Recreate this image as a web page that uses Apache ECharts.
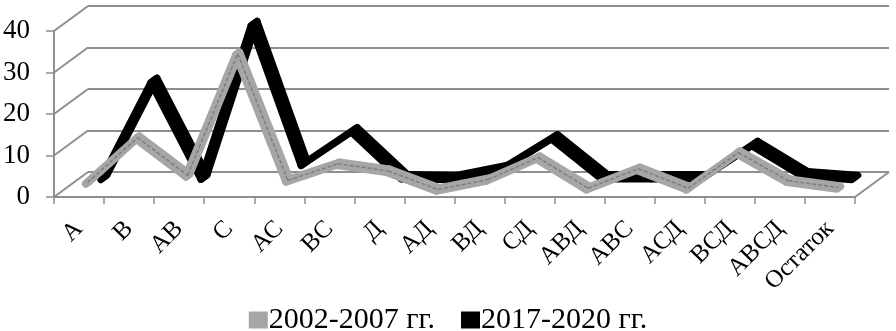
<!DOCTYPE html>
<html><head><meta charset="utf-8">
<script src="https://cdn.jsdelivr.net/npm/echarts@6/dist/echarts.min.js"></script>
<style>html,body{margin:0;padding:0;background:#fff}#c{width:896px;height:331px}</style>
</head><body><div id="c"></div>
<script>
// ---- data ----
const categories = ['А','В','АВ','С','АС','ВС','Д','АД','ВД','СД','АВД','АВС','АСД','ВСД','АВСД','Остаток'];
const seriesNames = ['2002-2007 гг.', '2017-2020 гг.'];
const values2002 = [2, 12.8, 3.7, 33, 2.5, 6.5, 4.8, 0.3, 2.7, 8, 0.6, 5.3, 0.6, 9.2, 2.4, 0.8];
const values2017 = [0.3, 23.7, 0.4, 37.4, 3.7, 11.8, 0.5, 0.3, 2.7, 10.1, 0.5, 0.5, 0.5, 8.5, 1.2, 0.3];
const yTicks = [0, 10, 20, 30, 40];

// ---- layout / style ----
const DX = 34, DY = -25;           // 3D depth vector (pixels)
const FRONT_LEFT = 54, FRONT_TOP = 31, PLOT_W = 801, PLOT_H = 166;
const GRID_COLOR = '#8e8e8e';
const GRAY = '#a6a6a6', BLACK = '#000000';
const FONT = 'Liberation Serif';

const P = (p, d) => [p[0] + d * DX, p[1] + d * DY];

function ribbon(vals, d1, d2, color, w) {
  return function (params, api) {
    const i = params.dataIndex;
    if (i >= vals.length - 1) return null;
    const a = api.coord([i, vals[i]]);
    const b = api.coord([i + 1, vals[i + 1]]);
    return { type: 'polygon', shape: { points: [P(a, d1), P(b, d1), P(b, d2), P(a, d2)] },
      style: { fill: color, stroke: color, lineWidth: w, lineJoin: 'round' } };
  };
}
function dashLine(vals, d, color) {
  return function (params, api) {
    const i = params.dataIndex;
    if (i >= vals.length - 1) return null;
    const a = P(api.coord([i, vals[i]]), d);
    const b = P(api.coord([i + 1, vals[i + 1]]), d);
    return { type: 'line', shape: { x1: a[0], y1: a[1], x2: b[0], y2: b[1] },
      style: { stroke: color, lineWidth: 1.4, lineDash: [4, 2] } };
  };
}

const chart = echarts.init(document.getElementById('c'), null, { renderer: 'canvas' });
const decoData = yTicks.map(v => [0, v, 0]).concat([[categories.length - 1, 0, 1]]);

chart.setOption({
  animation: false,
  backgroundColor: '#fff',
  textStyle: { fontFamily: FONT },
  grid: [
    { left: FRONT_LEFT + DX, top: FRONT_TOP + DY, width: PLOT_W, height: PLOT_H },
    { left: FRONT_LEFT, top: FRONT_TOP, width: PLOT_W, height: PLOT_H }
  ],
  xAxis: [
    { gridIndex: 0, type: 'category', data: categories, show: false },
    { gridIndex: 1, type: 'category', data: categories,
      axisLine: { lineStyle: { color: GRID_COLOR, width: 2 } },
      axisTick: { show: true, length: 7, lineStyle: { color: GRID_COLOR, width: 1.5 } },
      axisLabel: { rotate: 45, margin: 28, fontSize: 25, color: '#000', fontFamily: FONT, interval: 0 } }
  ],
  yAxis: [
    { gridIndex: 0, type: 'value', min: 0, max: 40, interval: 10,
      axisLine: { show: false }, axisTick: { show: false }, axisLabel: { show: false },
      splitLine: { show: true, lineStyle: { color: GRID_COLOR, width: 2 } } },
    { gridIndex: 1, type: 'value', min: 0, max: 40, interval: 10,
      axisLine: { show: true, lineStyle: { color: GRID_COLOR, width: 2 } },
      axisTick: { show: true, length: 8, lineStyle: { color: GRID_COLOR, width: 1.5 } },
      axisLabel: { margin: 24, fontSize: 27, color: '#000', fontFamily: FONT,
        formatter: v => (yTicks.indexOf(v) >= 0 ? String(v) : '') },
      splitLine: { show: false } }
  ],
  legend: {
    data: [
      { name: seriesNames[0], itemStyle: { color: GRAY } },
      { name: seriesNames[1], itemStyle: { color: BLACK } }
    ],
    top: 300, left: 'center', icon: 'rect', itemWidth: 19, itemHeight: 17, itemGap: 26,
    textStyle: { fontSize: 30, color: '#000', fontFamily: FONT, padding: [0, 0, 0, -4] }
  },
  series: [
    { type: 'custom', name: 'deco', xAxisIndex: 1, yAxisIndex: 1, silent: true, z: 1,
      data: decoData,
      renderItem: function (params, api) {
        const c = api.coord([api.value(0), api.value(1)]);
        const half = api.size([1, 0])[0] / 2;
        const x = api.value(2) ? c[0] + half : c[0] - half;
        return { type: 'line', shape: { x1: x, y1: c[1], x2: x + DX, y2: c[1] + DY },
          style: { stroke: GRID_COLOR, lineWidth: 2 } };
      } },
    { type: 'custom', name: seriesNames[1], xAxisIndex: 1, yAxisIndex: 1, z: 3,
      itemStyle: { color: BLACK },
      data: values2017.map((v, i) => [i, v]),
      renderItem: ribbon(values2017, 0.64, 0.82, BLACK, 7) },
    { type: 'custom', name: seriesNames[0], xAxisIndex: 1, yAxisIndex: 1, z: 4,
      itemStyle: { color: GRAY },
      data: values2002.map((v, i) => [i, v]),
      renderItem: ribbon(values2002, 0.2, 0.3, GRAY, 8) },
    { type: 'custom', name: 'grayPattern', xAxisIndex: 1, yAxisIndex: 1, z: 5, silent: true,
      data: values2002.map((v, i) => [i, v]),
      renderItem: dashLine(values2002, 0.25, '#7c7c7c') }
  ]
});
</script></body></html>
